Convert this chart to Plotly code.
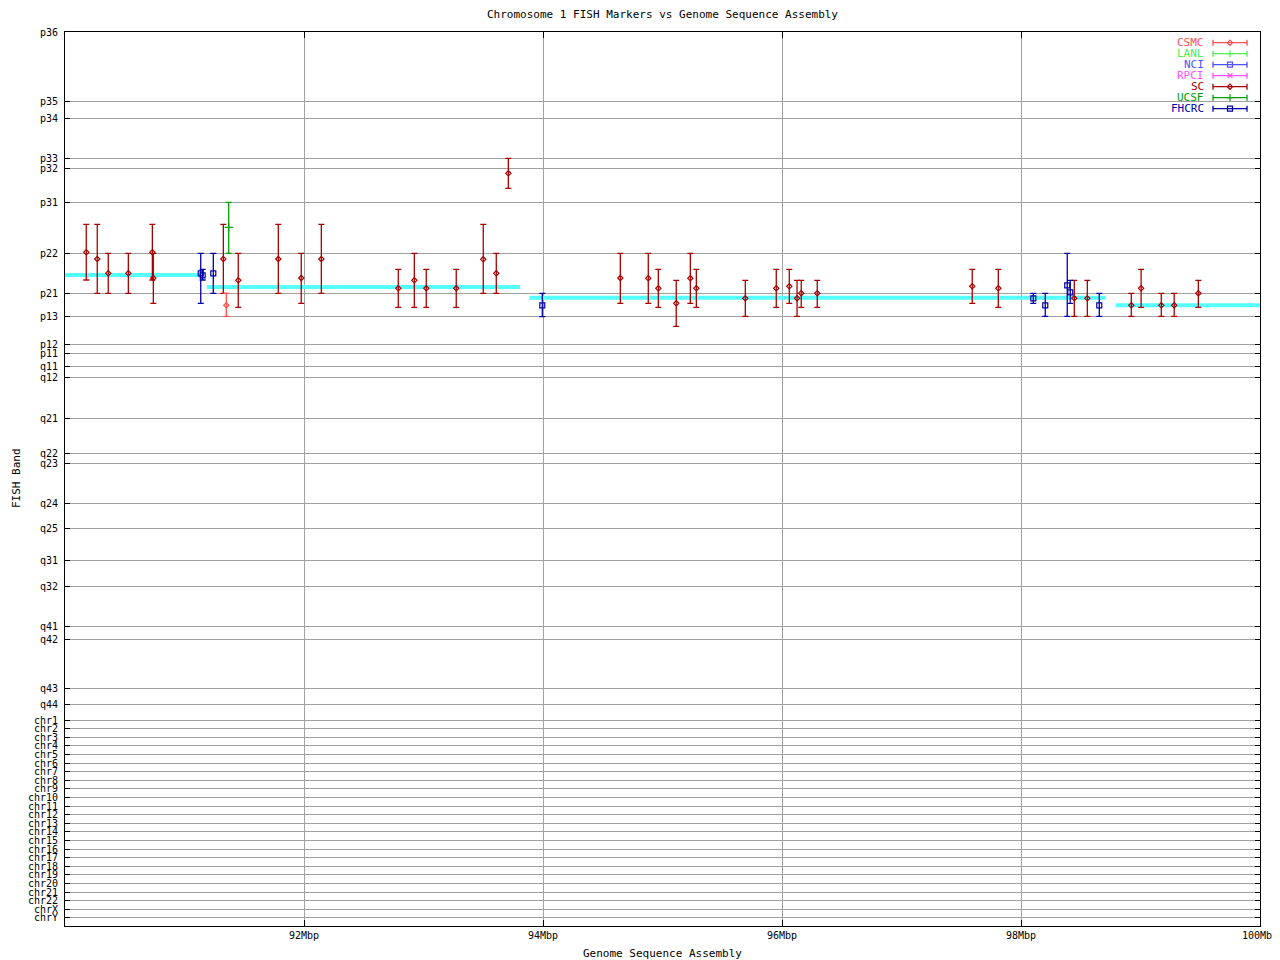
import plotly.graph_objects as go

# ---------------- data ----------------
# Y axis: cytogenetic band coordinate (arbitrary units, 0 = p36 at top, increasing downward)
BAND_NAMES = ["p36", "p35", "p34", "p33", "p32", "p31", "p22", "p21", "p13", "p12", "p11",
              "q11", "q12", "q21", "q22", "q23", "q24", "q25", "q31", "q32", "q41", "q42",
              "q43", "q44",
              "chr1", "chr2", "chr3", "chr4", "chr5", "chr6", "chr7", "chr8", "chr9", "chr10",
              "chr11", "chr12", "chr13", "chr14", "chr15", "chr16", "chr17", "chr18", "chr19",
              "chr20", "chr21", "chr22", "chrX", "chrY"]
BAND_POS = [0, 69, 86.3, 126.3, 136, 170.3, 221.3, 261.3, 284, 312, 321,
            334, 345.3, 386.3, 421.3, 431.3, 471.3, 496.3, 528.3, 554.3, 594.3, 607,
            656.3, 672,
            688, 696.6, 705.2, 713.8, 722.4, 731, 739.6, 748.2, 756.8, 765.4,
            774, 782.6, 791.2, 799.8, 808.4, 817, 825.6, 834.2, 842.8,
            851.4, 860, 868.6, 877.2, 885.8]
Y_MAX = 894

X_TICKS = [92, 94, 96, 98, 100]
X_TICK_TEXT = ["92Mbp", "94Mbp", "96Mbp", "98Mbp", "100Mbp"]

# SC markers: position (Mbp), band centre, band top, band bottom
sc_x = [90.178, 90.270, 90.362, 90.530, 90.731, 90.739, 91.325, 91.450, 91.785, 91.977,
        92.145, 92.789, 92.923, 93.023, 93.274, 93.500, 93.609, 93.710, 94.647, 94.881,
        94.965, 95.115, 95.233, 95.283, 95.693, 95.952, 96.061, 96.126, 96.161, 96.295,
        97.592, 97.810, 98.446, 98.555, 98.923, 99.005, 99.174, 99.282, 99.484]
sc_c = [220.3, 227, 241.3, 241.3, 220.3, 246, 227, 248.3, 227, 246,
        227, 256.3, 248.3, 256.3, 256.3, 227.3, 241.3, 141.3, 246, 246.3,
        256.3, 271.3, 246.3, 256.3, 266.3, 256.3, 254.3, 266.3, 261.3, 261.3,
        254.3, 256.3, 266.3, 266.3, 273.3, 256.3, 273.3, 273.3, 261.3]
sc_top = [192.3, 192.3, 221.3, 221.3, 192.3, 221.3, 192.3, 221.3, 192.3, 221.3,
          192.3, 237.3, 221.3, 237.3, 237.3, 192.3, 221.3, 126.3, 221.3, 221.3,
          237.3, 248.3, 221.3, 237.3, 248.3, 237.3, 237.3, 248.3, 248.3, 248.3,
          237.3, 237.3, 248.3, 248.3, 261.3, 237.3, 261.3, 261.3, 248.3]
sc_bot = [248, 261.3, 261.3, 261.3, 248, 271.3, 261.3, 275.3, 261.3, 271.3,
          261.3, 275.3, 275.3, 275.3, 275.3, 261.3, 261.3, 156.3, 271.3, 271.3,
          275.3, 294.3, 271.3, 275.3, 284.3, 275.3, 271.3, 284.3, 275.3, 275.3,
          271.3, 275.3, 284.3, 284.3, 284.3, 275.3, 284.3, 284.3, 275.3]

# FHCRC markers
fh_x = [91.136, 91.152, 91.241, 93.994, 98.103, 98.203, 98.387, 98.412, 98.655]
fh_c = [241.3, 243.3, 241.3, 273.3, 266.3, 273.3, 253.3, 260.3, 273.3]
fh_top = [221.3, 237.3, 221.3, 261.3, 261.3, 261.3, 221.3, 248.3, 261.3]
fh_bot = [271.3, 248, 261.3, 284.7, 271.3, 284.3, 284.3, 271.3, 284.3]

# CSMC markers
cs_x = [91.350]
cs_c = [273.3]
cs_top = [261.3]
cs_bot = [284.3]

# UCSF markers
uc_x = [91.370]
uc_c = [195.3]
uc_top = [170.3]
uc_bot = [221.3]

# Genome sequence assembly segments (start Mbp, end Mbp, band coordinate)
asm_start = [90.0, 91.186, 93.885, 98.792]
asm_end = [91.13, 93.808, 98.709, 100.0]
asm_y = [243, 255, 265.7, 273.3]

# Legend entries
LEG_NAMES = ["CSMC", "LANL", "NCI", "RPCI", "SC", "UCSF", "FHCRC"]
LEG_COLORS = ["#ff5050", "#50f050", "#5050ff", "#ff50ff", "#a80000", "#00a000", "#0000a8"]
LEG_SYMBOLS = ["diamond-open", "cross-thin-open", "square-open", "x-thin-open",
               "diamond-open", "cross-thin-open", "square-open"]

FONT = "DejaVu Sans Mono"
FS = 10

# page offset (browser body margin) compensation
PAGE_OFF = 8
PLOT_L, PLOT_R, PLOT_T, PLOT_B = 65, 1260, 32, 926   # target plot box in window pixels
PLOT_W, PLOT_H = PLOT_R - PLOT_L, PLOT_B - PLOT_T
FIG_W, FIG_H = 1280 - PAGE_OFF, 960 - PAGE_OFF

fig = go.Figure()

# assembly line
ax, ay = [], []
for s, e, yv in zip(asm_start, asm_end, asm_y):
    ax += [s, e, None]
    ay += [yv, yv, None]
fig.add_trace(go.Scatter(x=ax, y=ay, mode="lines",
                         line=dict(color="#55ffff", width=4), hoverinfo="skip",
                         showlegend=False))


def add_series(xs, cs, tops, bots, color, symbol, size):
    fig.add_trace(go.Scatter(
        x=xs, y=cs, mode="markers",
        marker=dict(symbol=symbol, size=size, color=color, line=dict(color=color, width=1.2)),
        error_y=dict(type="data", symmetric=False,
                     array=[b - c for b, c in zip(bots, cs)],
                     arrayminus=[c - t for c, t in zip(cs, tops)],
                     color=color, thickness=1.3, width=3),
        showlegend=False))


add_series(sc_x, sc_c, sc_top, sc_bot, LEG_COLORS[4], LEG_SYMBOLS[4], 4)
add_series(fh_x, fh_c, fh_top, fh_bot, LEG_COLORS[6], LEG_SYMBOLS[6], 5)
add_series(cs_x, cs_c, cs_top, cs_bot, LEG_COLORS[0], LEG_SYMBOLS[0], 4)
add_series(uc_x, uc_c, uc_top, uc_bot, LEG_COLORS[5], LEG_SYMBOLS[5], 6)

# gnuplot style key drawn on an overlay pixel-like axis
for i, (name, col, sym) in enumerate(zip(LEG_NAMES, LEG_COLORS, LEG_SYMBOLS)):
    yk = 10.7 + 11 * i
    fig.add_trace(go.Scatter(
        x=[1165], y=[yk], mode="markers", xaxis="x2", yaxis="y2",
        marker=dict(symbol=sym, size=4 if "diamond" in sym else 5,
                    color=col, line=dict(color=col, width=1.2)),
        error_x=dict(type="data", array=[17], color=col, thickness=1.3, width=3),
        showlegend=False, hoverinfo="skip"))
    fig.add_annotation(x=1141, y=yk, xref="x2", yref="y2", text=name, showarrow=False,
                       xanchor="right", yanchor="middle",
                       font=dict(family=FONT, size=FS + 1, color=col))

fig.update_layout(
    width=FIG_W, height=FIG_H,
    margin=dict(l=PLOT_L - PAGE_OFF, r=FIG_W - (PLOT_R - PAGE_OFF),
                t=PLOT_T - PAGE_OFF, b=FIG_H - (PLOT_B - PAGE_OFF), autoexpand=False),
    paper_bgcolor="white", plot_bgcolor="white",
    font=dict(family=FONT, size=FS, color="black"),
    showlegend=False,
    xaxis=dict(range=[90, 100], tickvals=X_TICKS, ticktext=X_TICK_TEXT,
               showgrid=True, gridcolor="#a0a0a0", gridwidth=1,
               ticks="inside", ticklen=6, tickcolor="black",
               showline=True, linecolor="black", linewidth=1, mirror="ticks",
               zeroline=False, automargin=False, tickfont=dict(family=FONT, size=FS)),
    yaxis=dict(range=[Y_MAX, 0], tickvals=BAND_POS, ticktext=BAND_NAMES,
               showgrid=True, gridcolor="#a0a0a0", gridwidth=1,
               ticks="inside", ticklen=5, tickcolor="black", ticklabelstandoff=4,
               showline=True, linecolor="black", linewidth=1, mirror="ticks",
               zeroline=False, automargin=False, tickfont=dict(family=FONT, size=FS)),
    xaxis2=dict(range=[0, PLOT_W], overlaying="x", visible=False),
    yaxis2=dict(range=[PLOT_H, 0], overlaying="y", visible=False),
)

fig.add_annotation(text="Chromosome 1 FISH Markers vs Genome Sequence Assembly",
                   x=(662 - PLOT_L) / PLOT_W, y=(PLOT_B - 15) / PLOT_H,
                   xref="paper", yref="paper", showarrow=False,
                   xanchor="center", yanchor="middle",
                   font=dict(family=FONT, size=FS + 1))
fig.add_annotation(text="Genome Sequence Assembly", x=0.5, y=(PLOT_B - 953) / PLOT_H,
                   xref="paper", yref="paper", showarrow=False,
                   xanchor="center", yanchor="middle",
                   font=dict(family=FONT, size=FS + 1))
fig.add_annotation(text="FISH Band", x=(16 - PLOT_L) / PLOT_W, y=(PLOT_B - 478) / PLOT_H,
                   xref="paper", yref="paper", showarrow=False, textangle=-90,
                   xanchor="center", yanchor="middle",
                   font=dict(family=FONT, size=FS + 1))

fig.write_html("out.html")
